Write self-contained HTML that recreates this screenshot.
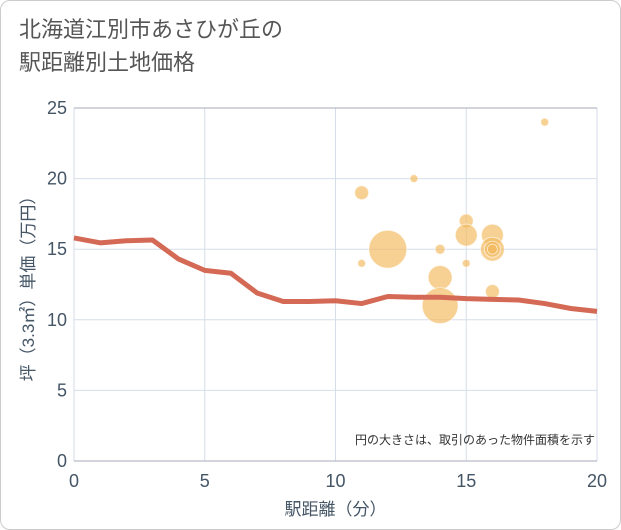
<!DOCTYPE html>
<html><head><meta charset="utf-8"><style>
body{margin:0;background:#fff;font-family:"Liberation Sans","Noto Sans CJK JP",sans-serif}
#wrap{position:relative;width:619px;height:528px;border:1px solid #ccc;border-radius:10px;overflow:hidden}
#title{position:absolute;left:18px;top:12px;font-size:22px;line-height:33px;color:#555}
svg{position:absolute;left:0;top:0}
</style></head><body>
<div id="wrap">
<div id="title">北海道江別市あさひが丘の<br>駅距離別土地価格</div>
<svg id="c" width="621" height="530"></svg>
</div>
<script>
const xTicks=[0,5,10,15,20];
const yTicks=[0,5,10,15,20,25];
const lineX=[0,1,2,3,4,5,6,7,8,9,10,11,12,13,14,15,16,17,18,19,20];
const lineY=[15.8,15.45,15.6,15.65,14.3,13.5,13.3,11.9,11.3,11.3,11.35,11.15,11.65,11.6,11.6,11.5,11.45,11.4,11.15,10.8,10.6];
const bubX=[11,12,11,13,14,14,14,15,15,15,16,16,16,16,16,18];
const bubY=[19,15,14,20,15,13,11,17,16,14,16,15,15,15,12,24];
const bubR=[7,19,4,4,5,12,18,7,11,4,11,12,8,5,7,4];
const NS="http://www.w3.org/2000/svg",svg=document.getElementById('c');
const X0=73,X1=596,Y0=460,Y1=107;
const TC='#445566';
const sx=v=>X0+(X1-X0)*v/20, sy=v=>Y0-(Y0-Y1)*v/25;
function mk(t,a,txt){const e=document.createElementNS(NS,t);for(const k in a)e.setAttribute(k,a[k]);if(txt!=null)e.textContent=txt;svg.appendChild(e);return e;}
xTicks.forEach(v=>{
const g=mk('line',{x1:sx(v),x2:sx(v),y1:Y1,y2:Y0,stroke:'#d5dee8','stroke-width':1});


const t=mk('text',{x:sx(v),y:486,'text-anchor':'middle','font-size':18,fill:TC},v);


});
yTicks.forEach(v=>{
const g=mk('line',{x1:X0,x2:X1,y1:sy(v),y2:sy(v),stroke:v==0||v==25?'#aab':'#d5dee8','stroke-width':1});


const t=mk('text',{x:66,y:sy(v)+6,'text-anchor':'end','font-size':18,fill:TC},v);


});
bubX.forEach((x,i)=>{
const c=mk('circle',{cx:sx(x),cy:sy(bubY[i]),r:bubR[i],fill:'rgba(242,184,90,0.65)',stroke:'rgba(255,255,255,0.6)','stroke-width':1});


});
const p=mk('polyline',{points:lineX.map((x,i)=>sx(x)+','+sy(lineY[i])).join(' '),fill:'none',stroke:'#d46a55','stroke-width':5,'stroke-linejoin':'round'});


const n=mk('text',{x:594,y:443,'text-anchor':'end','font-size':12,fill:'#333'},'円の大きさは、取引のあった物件面積を示す');


const xt=mk('text',{x:sx(10),y:514,'text-anchor':'middle','font-size':17,fill:TC},'駅距離（分）');


const yt=mk('text',{x:0,y:0,'text-anchor':'middle','font-size':17,fill:TC,transform:'translate(33,'+sy(12.5)+') rotate(-90)'},'坪（3.3㎡）単価（万円）');


</script>
</body></html>
